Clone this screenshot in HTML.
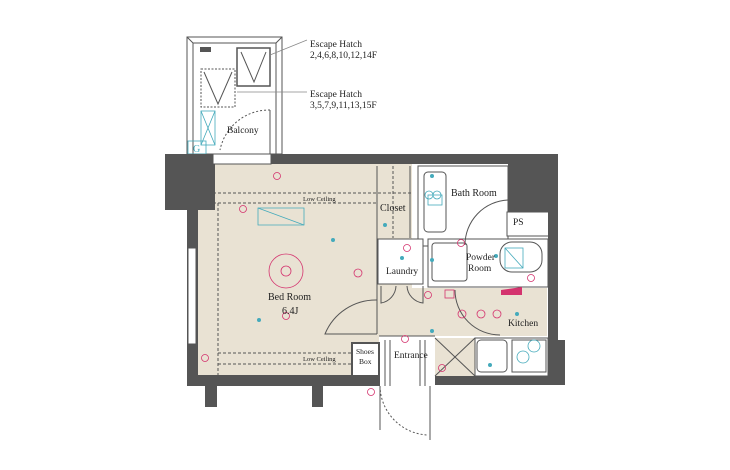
<!DOCTYPE html>
<html><head><meta charset="utf-8"><style>
body{margin:0;background:#fff;}
svg{display:block;font-family:"Liberation Serif",serif;}
</style></head><body>
<svg width="730" height="470" viewBox="0 0 730 470" xmlns="http://www.w3.org/2000/svg">
<g fill="none" stroke="#555" stroke-width="1">
<rect x="187" y="37" width="95" height="117"/>
<rect x="193" y="43" width="83" height="111"/>
<line x1="187" y1="37" x2="193" y2="43"/><line x1="282" y1="37" x2="276" y2="43"/>
<rect x="237" y="48" width="33" height="38" stroke-width="1.5"/>
<polyline points="241,52 254,82 266,52"/>
<rect x="201" y="69" width="34" height="38" stroke-dasharray="2,1.5"/>
<polyline points="204,72 218,104 232,72"/>
<path d="M270,110 A50,50 0 0 0 220,150" stroke-dasharray="2,2"/>
<line x1="270" y1="110" x2="270" y2="154"/>
<line x1="270" y1="55" x2="307" y2="40" stroke="#888" stroke-width="0.7"/>
<line x1="237" y1="92" x2="307" y2="92" stroke="#888" stroke-width="0.7"/>
</g>
<rect x="200" y="47" width="11" height="5" fill="#555"/>
<g fill="none" stroke="#4ab" stroke-width="0.8">
<rect x="201" y="111" width="14" height="34"/><line x1="201" y1="111" x2="215" y2="145"/><line x1="215" y1="111" x2="201" y2="145"/>
<rect x="188" y="141" width="18" height="13"/>
</g>
<text x="193" y="152" font-size="10" fill="#4ab">G</text>
<rect x="198" y="164" width="214" height="211" fill="#e9e2d3"/>
<rect x="377" y="288" width="170" height="48" fill="#e9e2d3"/>
<rect x="379" y="336" width="56" height="40" fill="#fff"/>
<rect x="435" y="338" width="40" height="38" fill="#e9e2d3"/>
<rect x="418" y="166" width="90" height="80" fill="#fff" stroke="#555"/>
<rect x="424" y="172" width="22" height="60" rx="4" fill="#fff" stroke="#555"/>
<rect x="428" y="195" width="14" height="10" fill="none" stroke="#4ab" stroke-width="0.8"/>
<rect x="507" y="212" width="44" height="24" fill="#fff" stroke="#555"/>
<rect x="428" y="239" width="120" height="48" fill="#fff" stroke="#555"/>
<rect x="378" y="239" width="45" height="45" fill="#fff" stroke="#555"/>
<rect x="475" y="338" width="73" height="38" fill="#fff" stroke="#555"/>
<rect x="500" y="242" width="42" height="30" rx="12" fill="#fff" stroke="#555"/>
<rect x="352" y="343" width="27" height="33" fill="#fff" stroke="#555" stroke-width="2"/>
<g fill="#555">
<rect x="165" y="154" width="393" height="10"/>
<rect x="165" y="154" width="50" height="56"/>
<rect x="187" y="210" width="11" height="175"/>
<rect x="187" y="375" width="193" height="11"/>
<rect x="205" y="386" width="12" height="21"/>
<rect x="312" y="386" width="11" height="21"/>
<rect x="508" y="154" width="50" height="58"/>
<rect x="548" y="154" width="10" height="230"/>
<rect x="435" y="376" width="130" height="9"/>
<rect x="552" y="340" width="13" height="45"/>
</g>
<rect x="213" y="154" width="58" height="10" fill="#fff" stroke="#555"/>
<rect x="188" y="248" width="8" height="96" fill="#fff" stroke="#555"/>
<g fill="none" stroke="#555" stroke-width="1">
<line x1="198" y1="193" x2="412" y2="193" stroke-dasharray="3,2"/>
<line x1="198" y1="203" x2="377" y2="203" stroke-dasharray="3,2"/>
<line x1="218" y1="203" x2="218" y2="375" stroke-dasharray="3,2"/>
<line x1="218" y1="353" x2="352" y2="353" stroke-dasharray="3,2"/>
<line x1="218" y1="364" x2="352" y2="364" stroke-dasharray="3,2"/>
<line x1="377" y1="166" x2="377" y2="334"/>
<line x1="410" y1="166" x2="410" y2="238"/>
<line x1="393" y1="166" x2="393" y2="238" stroke-dasharray="3,2"/>
<path d="M377,300 A55,55 0 0 0 325,334 L377,334"/>
<path d="M381,286 L381,303 A18,18 0 0 0 396,286 M423,286 L423,303 A18,18 0 0 1 407,286"/>
<path d="M455,290 A45,45 0 0 0 500,335"/>
<path d="M465,245 A45,45 0 0 1 508,200"/>
<line x1="379" y1="336" x2="435" y2="336"/>
<line x1="435" y1="338" x2="475" y2="376"/><line x1="475" y1="338" x2="435" y2="376"/>
<line x1="380" y1="386" x2="380" y2="430"/><line x1="430" y1="386" x2="430" y2="440"/>
<path d="M380,386 A50,50 0 0 0 427,435" stroke-dasharray="2,2"/>
<line x1="385" y1="340" x2="385" y2="386"/><line x1="425" y1="340" x2="425" y2="386"/>
<line x1="390" y1="340" x2="390" y2="386"/><line x1="420" y1="340" x2="420" y2="386"/>
<rect x="477" y="340" width="30" height="32" rx="4"/>
<rect x="512" y="340" width="34" height="32"/>
<rect x="432" y="243" width="35" height="38" rx="3"/>
</g>
<g fill="none" stroke="#4ab" stroke-width="0.8">
<polygon points="258,208 304,208 304,225 258,225"/><line x1="258" y1="208" x2="304" y2="225"/>
<circle cx="429" cy="195" r="4"/><circle cx="437" cy="195" r="4"/>
<rect x="505" y="248" width="18" height="20"/><line x1="505" y1="248" x2="523" y2="268"/>
<circle cx="534" cy="346" r="6"/><circle cx="523" cy="357" r="6"/>
</g>
<g fill="#4ab">
<circle cx="259" cy="320" r="2"/><circle cx="333" cy="240" r="2"/><circle cx="385" cy="225" r="2"/>
<circle cx="402" cy="258" r="2"/><circle cx="432" cy="260" r="2"/><circle cx="432" cy="176" r="2"/>
<circle cx="432" cy="331" r="2"/><circle cx="517" cy="314" r="2"/><circle cx="496" cy="256" r="2"/>
<circle cx="490" cy="365" r="2"/>
</g>
<g fill="none" stroke="#d4336e" stroke-width="0.8">
<circle cx="286" cy="271" r="17"/><circle cx="286" cy="271" r="5"/>
<circle cx="277" cy="176" r="3.5"/><circle cx="243" cy="209" r="3.5"/><circle cx="286" cy="316" r="3.5"/>
<circle cx="205" cy="358" r="3.5"/><circle cx="358" cy="273" r="4"/><circle cx="407" cy="248" r="3.5"/>
<circle cx="428" cy="295" r="3.5"/><circle cx="462" cy="314" r="4"/><circle cx="481" cy="314" r="4"/>
<circle cx="497" cy="314" r="4"/><circle cx="405" cy="339" r="3.5"/><circle cx="442" cy="368" r="3.5"/>
<circle cx="371" cy="392" r="3.5"/><circle cx="461" cy="243" r="3.5"/><circle cx="531" cy="278" r="3.5"/>
<rect x="445" y="290" width="9" height="8"/>
</g>
<polygon points="501,290 522,287 522,295 501,295" fill="#d4336e"/>
<g fill="#222" font-size="9.5">
<text x="310" y="47">Escape Hatch</text>
<text x="310" y="58">2,4,6,8,10,12,14F</text>
<text x="310" y="97">Escape Hatch</text>
<text x="310" y="108">3,5,7,9,11,13,15F</text>
<text x="227" y="133">Balcony</text>
<text x="380" y="211" font-size="10">Closet</text>
<text x="451" y="196" font-size="10">Bath Room</text>
<text x="513" y="225">PS</text>
<text x="466" y="260">Powder</text>
<text x="468" y="271">Room</text>
<text x="386" y="274">Laundry</text>
<text x="268" y="300" font-size="10">Bed Room</text>
<text x="282" y="314" font-size="10">6.4J</text>
<text x="508" y="326">Kitchen</text>
<text x="394" y="358">Entrance</text>
<text x="356" y="354" font-size="7.5">Shoes</text>
<text x="359" y="364" font-size="7.5">Box</text>
<text x="303" y="201" font-size="6.5">Low Ceiling</text>
<text x="303" y="361" font-size="6.5">Low Ceiling</text>
</g>
</svg>
</body></html>
